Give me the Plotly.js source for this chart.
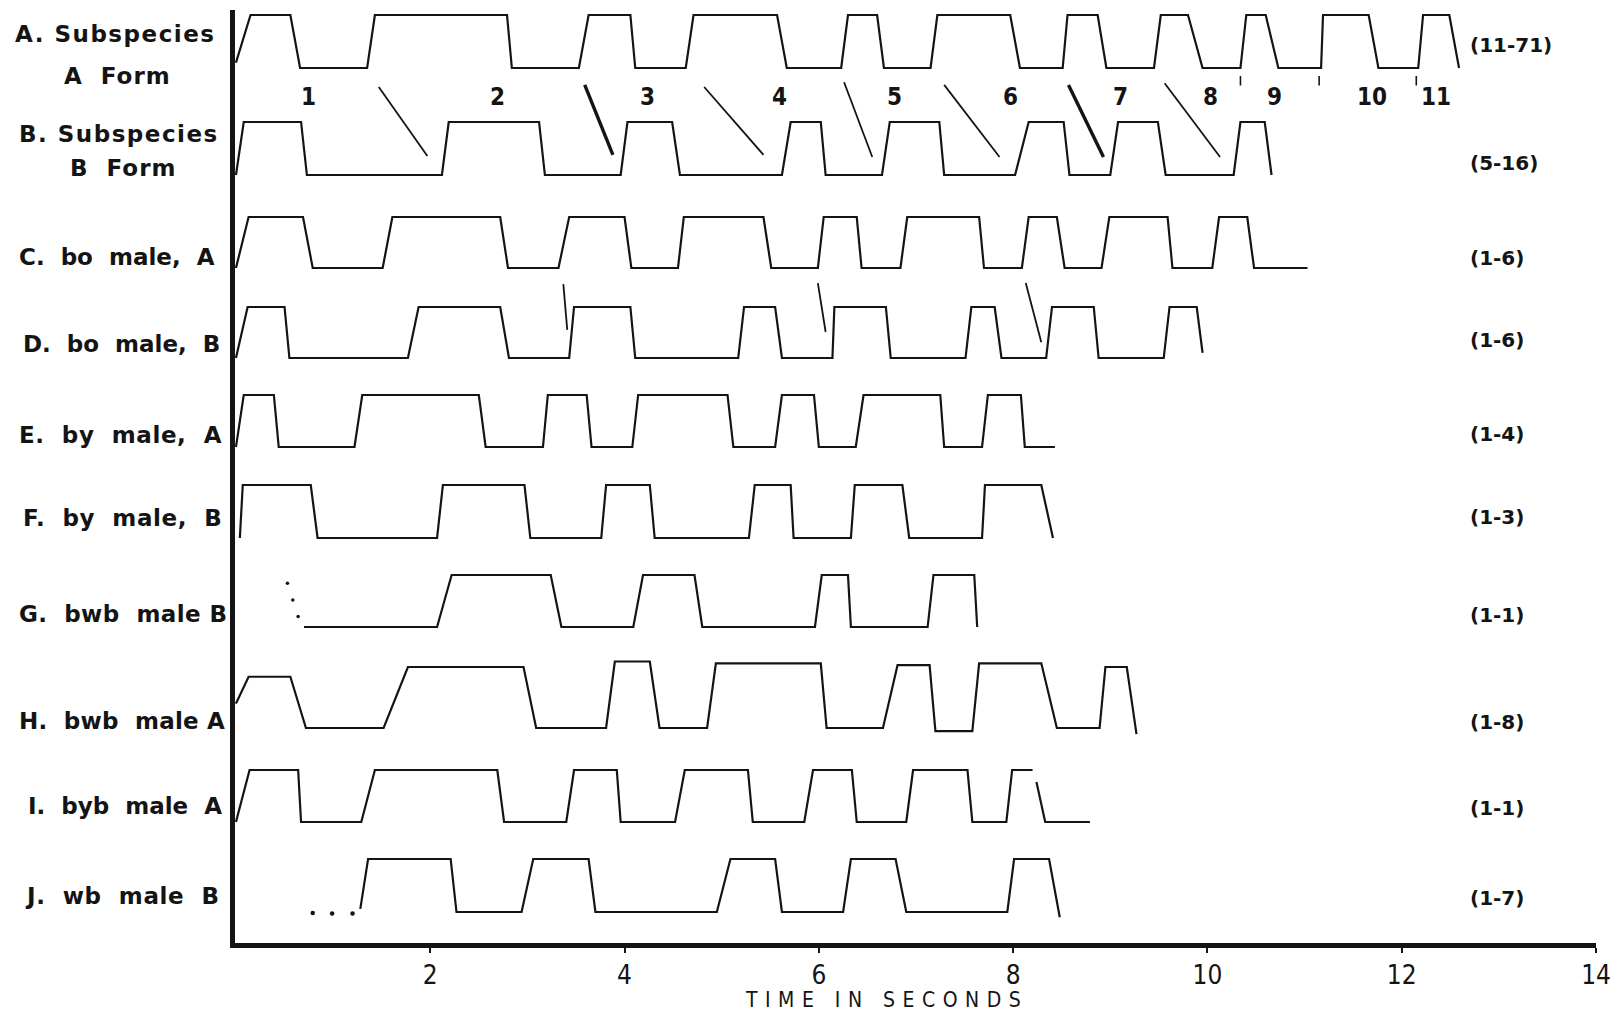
<!DOCTYPE html>
<html><head><meta charset="utf-8">
<script src="https://cdn.plot.ly/plotly-3.0.1.min.js"></script>
<style>html,body{margin:0;padding:0;background:#fff}</style>
</head><body>
<div id="chart" style="width:1614px;height:1013px"></div>
<script>
// ================= DATA =================
const rowLabels = ["A. Subspecies", "B. Subspecies", "C.&nbsp; bo&nbsp; male,&nbsp; A", "D.&nbsp; bo&nbsp; male,&nbsp; B",
  "E.&nbsp; by&nbsp; male,&nbsp; A", "F.&nbsp; by&nbsp; male,&nbsp; B", "G.&nbsp; bwb&nbsp; male&nbsp;B",
  "H.&nbsp; bwb&nbsp; male&nbsp;A", "I.&nbsp; byb&nbsp; male&nbsp; A", "J.&nbsp; wb&nbsp; male&nbsp; B"];
const formLabels = ["A&nbsp; Form", "B&nbsp; Form"];
const sampleSizes = ["(11-71)", "(5-16)", "(1-6)", "(1-6)", "(1-4)", "(1-3)", "(1-1)", "(1-8)", "(1-1)", "(1-7)"];

// time (s) of each corner of the song traces, and the trace level (0 = low, 1 = high)
const timeA = [0.00,0.15,0.56,0.66, 1.35,1.43,2.79,2.84, 3.53,3.63,4.06,4.11, 4.63,4.71,5.57,5.67,
  6.23,6.30,6.60,6.67, 7.15,7.22,7.97,8.07, 8.51,8.56,8.87,8.96, 9.45,9.52,9.80,9.95,
  10.34,10.40,10.60,10.73, 11.17,11.19,11.66,11.76, 12.17,12.22,12.49,12.59];
const levelA = [0.1,1,1,0, 0,1,1,0, 0,1,1,0, 0,1,1,0, 0,1,1,0, 0,1,1,0, 0,1,1,0, 0,1,1,0, 0,1,1,0, 0,1,1,0, 0,1,1,0];

const timeB = [0.00,0.08,0.67,0.73, 2.12,2.19,3.12,3.18, 3.96,4.03,4.49,4.57, 5.62,5.71,6.02,6.07,
  6.65,6.73,7.24,7.29, 8.02,8.16,8.52,8.58, 9.00,9.08,9.49,9.57, 10.27,10.34,10.59,10.66];
const levelB = [0,1,1,0, 0,1,1,0, 0,1,1,0, 0,1,1,0, 0,1,1,0, 0,1,1,0, 0,1,1,0, 0,1,1,0];

const timeC = [0.00,0.13,0.69,0.79, 1.51,1.61,2.72,2.80, 3.32,3.43,4.00,4.07, 4.55,4.61,5.43,5.51,
  5.99,6.05,6.39,6.44, 6.84,6.91,7.65,7.70, 8.09,8.16,8.45,8.53, 8.91,8.99,9.59,9.64,
  10.05,10.12,10.41,10.48, 11.03];
const levelC = [0,1,1,0, 0,1,1,0, 0,1,1,0, 0,1,1,0, 0,1,1,0, 0,1,1,0, 0,1,1,0, 0,1,1,0, 0,1,1,0, 0];

const timeD = [0.00,0.12,0.50,0.55, 1.77,1.88,2.72,2.81, 3.43,3.48,4.06,4.11, 5.17,5.23,5.55,5.62,
  6.14,6.16,6.69,6.74, 7.51,7.57,7.81,7.88, 8.34,8.40,8.83,8.88, 9.55,9.61,9.89,9.95];
const levelD = [0,1,1,0, 0,1,1,0, 0,1,1,0, 0,1,1,0, 0,1,1,0, 0,1,1,0, 0,1,1,0, 0,1,1,0.1];

const timeE = [0.00,0.08,0.39,0.44, 1.22,1.30,2.50,2.57, 3.16,3.21,3.61,3.66, 4.08,4.14,5.06,5.12,
  5.55,5.62,5.95,6.00, 6.38,6.46,7.25,7.29, 7.68,7.74,8.08,8.12, 8.43];
const levelE = [0,1,1,0, 0,1,1,0, 0,1,1,0, 0,1,1,0, 0,1,1,0, 0,1,1,0, 0,1,1,0, 0];

const timeF = [0.04,0.07,0.77,0.84, 2.07,2.13,2.97,3.03, 3.76,3.81,4.26,4.31, 5.28,5.34,5.71,5.74,
  6.33,6.37,6.86,6.93, 7.68,7.71,8.29,8.41];
const levelF = [0,1,1,0, 0,1,1,0, 0,1,1,0, 0,1,1,0, 0,1,1,0, 0,1,1,0];

const timeG = [0.70, 2.07,2.22,3.24,3.35, 4.09,4.19,4.72,4.80, 5.96,6.03,6.30,6.33, 7.12,7.18,7.60,7.63];
const levelG = [0, 0,1,1,0, 0,1,1,0, 0,1,1,0, 0,1,1,0];

const timeH = [0.00,0.13,0.56,0.72, 1.52,1.77,2.96,3.09, 3.81,3.90,4.26,4.36, 4.85,4.94,6.02,6.08,
  6.66,6.81,7.14,7.20, 7.58,7.65,8.29,8.45, 8.89,8.95,9.17,9.27];
const levelH = [0.4,0.84,0.84,0, 0,1.0,1.0,0, 0,1.09,1.09,0, 0,1.06,1.06,0,
  0,1.03,1.03,-0.05, -0.05,1.06,1.06,0, 0,1.0,1.0,-0.1];

const timeI = [0.00,0.14,0.64,0.67, 1.29,1.43,2.69,2.76, 3.40,3.48,3.92,3.96, 4.52,4.62,5.27,5.32,
  5.85,5.94,6.34,6.39, 6.90,6.97,7.53,7.58, 7.93,7.99,8.20, null, 8.24,8.33,8.79];
const levelI = [0,1,1,0, 0,1,1,0, 0,1,1,0, 0,1,1,0, 0,1,1,0, 0,1,1,0, 0,1,1, null, 0.77,0,0];

const timeJ = [1.28,1.36,2.21,2.27, 2.94,3.06,3.63,3.70, 4.95,5.09,5.55,5.62, 6.25,6.33,6.79,6.90,
  7.94,8.01,8.37,8.48];
const levelJ = [0.06,1,1,0, 0,1,1,0, 0,1,1,0, 0,1,1,0, 0,1,1,-0.1];

// dotted lead-ins
const dotTimeG = [0.53, 0.585, 0.64];
const dotLevelG = [0.84, 0.52, 0.2];
const dotTimeJ = [0.79, 0.99, 1.20];
const dotLevelJ = [-0.02, -0.03, -0.03];

// note numbers between A and B
const noteNumbers = ["1","2","3","4","5","6","7","8","9","10","11"];
const noteTimes = [0.75, 2.69, 4.24, 5.60, 6.78, 7.97, 9.11, 10.03, 10.69, 11.69, 12.35];

// connecting strokes A -> B (levels on row B)
const linkABStart = [1.47, 3.59, 4.82, 6.26, 7.29, 8.57, 9.56];
const linkABEnd = [1.97, 3.88, 5.43, 6.55, 7.86, 8.93, 10.13];
const linkABStartLevel = [1.66, 1.70, 1.66, 1.75, 1.70, 1.70, 1.73];
const linkABEndLevel = [0.36, 0.38, 0.38, 0.34, 0.34, 0.34, 0.34];
const linkABHeavy = [false, true, false, false, false, true, false];
// small dividers under row A (levels on row A)
const dividerTimes = [10.34, 11.15, 12.15];
const dividerTop = -0.15, dividerBottom = -0.33;
// connecting strokes C -> D (levels on row D)
const linkCDStart = [3.37, 5.99, 8.13];
const linkCDEnd = [3.41, 6.07, 8.29];
const linkCDStartLevel = [1.45, 1.47, 1.47];
const linkCDEndLevel = [0.55, 0.51, 0.31];

const xTickVals = [2, 4, 6, 8, 10, 12, 14];
const xTickText = ["2", "4", "6", "8", "10", "12", "14"];
const xTitle = "TIME IN SECONDS";

// ================= LAYOUT / STYLE =================
const times = [timeA, timeB, timeC, timeD, timeE, timeF, timeG, timeH, timeI, timeJ];
const levels = [levelA, levelB, levelC, levelD, levelE, levelF, levelG, levelH, levelI, levelJ];

const W = 1614, H = 1013;
const mL = 235, mR = 18, mT = 10, mB = 70;
const plotTop = mT, plotBottom = H - mB, plotH = plotBottom - plotTop;
const plotW = W - mL - mR;
function fy(px) { return (plotBottom - px) / plotH; }
function fx(px) { return (px - mL) / plotW; }

// pixel position of the high and low level of each row
const rowHighPx = [15, 122, 217, 307, 395, 485, 575, 667, 770, 859];
const rowLowPx  = [68, 175, 268, 358, 447, 538, 627, 728, 822, 912];
const labelLeftPx = [13, 17, 17, 21, 17, 21, 17, 17, 26, 23];
const labelYPx = [34, 134, 257, 344, 435, 518, 614, 721, 806, 896];
const labelSpacing = [1.5, 1.5, 0, 0, 0.6, 0.6, 0.4, 0.2, 0, 0.6];
const formLeftPx = [62, 68];
const formYPx = [76, 168];
const sizeYPx = [45, 163, 258, 340, 434, 517, 615, 722, 808, 898];

const ink = '#141414';
const textFont = "DejaVu Sans, Verdana, sans-serif";
const condFont = "DejaVu Sans Condensed, DejaVu Sans, sans-serif";

function spaced(t, px) { return px ? '<span style="letter-spacing:' + px + 'px">' + t + '</span>' : t; }

const layout = {
  width: W, height: H,
  margin: {l: mL, r: mR, t: mT, b: mB, pad: 0},
  paper_bgcolor: '#fff', plot_bgcolor: 'rgba(0,0,0,0)',
  showlegend: false, hovermode: false,
  xaxis: {
    domain: [0, 1], range: [-0.01, 14.0], anchor: 'y',
    showline: true, linewidth: 5, linecolor: ink,
    ticks: 'outside', ticklen: 5, tickwidth: 2, tickcolor: ink,
    tickvals: xTickVals, ticktext: xTickText,
    tickfont: {family: condFont, size: 26, color: ink},
    showgrid: false, zeroline: false, fixedrange: true
  },
  yaxis: {
    domain: [0, 1], range: [0, 1], showline: true, linewidth: 5, linecolor: ink,
    showticklabels: false, ticks: '', showgrid: false, zeroline: false, fixedrange: true
  },
  annotations: []
};

const traces = [{x: [0], y: [0.5], xaxis: 'x', yaxis: 'y', mode: 'markers',
  marker: {opacity: 0}, hoverinfo: 'skip'}];

rowHighPx.forEach((hp, i) => {
  const lp = rowLowPx[i];
  const unit = lp - hp;
  const bottomPx = Math.min(plotBottom, lp + 0.5 * unit);
  const topPx = Math.max(plotTop, hp - 0.85 * unit);
  const yName = 'y' + (i + 2);
  layout['yaxis' + (i + 2)] = {
    domain: [fy(bottomPx), fy(topPx)],
    range: [-(bottomPx - lp) / unit, 1 + (hp - topPx) / unit],
    visible: false, fixedrange: true, anchor: 'x'
  };
  traces.push({x: times[i], y: levels[i], xaxis: 'x', yaxis: yName, mode: 'lines',
    line: {color: ink, width: 2.2}, connectgaps: false, hoverinfo: 'skip'});

  layout.annotations.push({text: spaced(rowLabels[i], labelSpacing[i]), xref: 'paper', yref: 'paper',
    x: fx(labelLeftPx[i]), y: fy(labelYPx[i]), xanchor: 'left', yanchor: 'middle', showarrow: false,
    font: {family: textFont, size: 23, color: ink, weight: 'bold'}});
  layout.annotations.push({text: sampleSizes[i], xref: 'x', yref: 'paper',
    x: 12.68, y: fy(sizeYPx[i]), xanchor: 'left', yanchor: 'middle', showarrow: false,
    font: {family: textFont, size: 20, color: ink, weight: 'bold'}});
});

formLabels.forEach((t, i) => {
  layout.annotations.push({text: spaced(t, 1), xref: 'paper', yref: 'paper',
    x: fx(formLeftPx[i]), y: fy(formYPx[i]), xanchor: 'left', yanchor: 'middle', showarrow: false,
    font: {family: textFont, size: 23, color: ink, weight: 'bold'}});
});

// dotted lead-ins
traces.push({x: dotTimeG, y: dotLevelG, xaxis: 'x', yaxis: 'y8', mode: 'markers',
  marker: {color: ink, size: 3.5}, hoverinfo: 'skip'});
traces.push({x: dotTimeJ, y: dotLevelJ, xaxis: 'x', yaxis: 'y11', mode: 'markers',
  marker: {color: ink, size: 4.5}, hoverinfo: 'skip'});

// connecting strokes A -> B
linkABStart.forEach((t0, k) => {
  traces.push({x: [t0, linkABEnd[k]], y: [linkABStartLevel[k], linkABEndLevel[k]],
    xaxis: 'x', yaxis: 'y3', mode: 'lines',
    line: {color: ink, width: linkABHeavy[k] ? 3.4 : 1.8}, hoverinfo: 'skip'});
});
dividerTimes.forEach(t => {
  traces.push({x: [t, t], y: [dividerTop, dividerBottom], xaxis: 'x', yaxis: 'y2', mode: 'lines',
    line: {color: ink, width: 1.6}, hoverinfo: 'skip'});
});
linkCDStart.forEach((t0, k) => {
  traces.push({x: [t0, linkCDEnd[k]], y: [linkCDStartLevel[k], linkCDEndLevel[k]],
    xaxis: 'x', yaxis: 'y5', mode: 'lines', line: {color: ink, width: 1.8}, hoverinfo: 'skip'});
});

// note numbers
noteNumbers.forEach((n, k) => {
  layout.annotations.push({text: n, xref: 'x', yref: 'paper', x: noteTimes[k], y: fy(97),
    xanchor: 'center', yanchor: 'middle', showarrow: false,
    font: {family: condFont, size: 24, color: ink, weight: 'bold'}});
});

// axis title
layout.annotations.push({text: spaced(xTitle, 7.5), xref: 'paper', yref: 'paper',
  x: fx(886), y: fy(999.5), xanchor: 'center', yanchor: 'middle',
  showarrow: false, font: {family: condFont, size: 21, color: ink}});

Plotly.newPlot('chart', traces, layout, {staticPlot: true, displayModeBar: false});
</script>
</body></html>
